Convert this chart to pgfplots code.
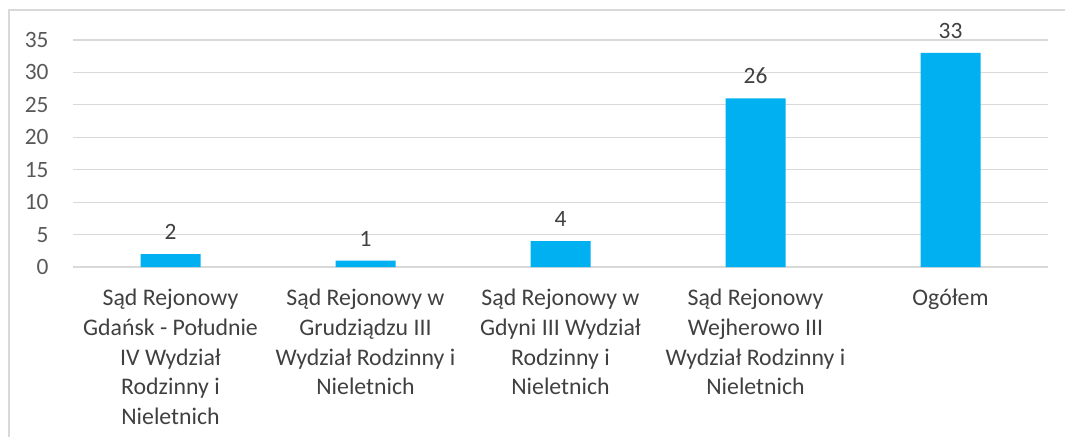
\documentclass[border=0pt]{standalone}
\usepackage{fontspec}
\setmainfont{Carlito}
\usepackage{pgfplots}
\pgfplotsset{compat=1.18}
\definecolor{barblue}{HTML}{00B0F0}
\definecolor{gridgray}{HTML}{D9D9D9}
\definecolor{txtgray}{HTML}{595959}
\definecolor{lblgray}{HTML}{404040}
\newcommand\chartfont{\fontsize{11.7}{14.5}\selectfont}
\newcommand\catfont{\fontsize{11.9}{14.8}\selectfont}
\begin{document}
\begin{tikzpicture}
\chartfont
\useasboundingbox (0,0) rectangle (532.5pt,218pt);
\begin{scope}
\clip (0,0) rectangle (532.5pt,218pt);
\draw[gridgray, line width=0.9pt] (4.5pt,-10pt) -- (4.5pt,213pt) -- (545pt,213pt);
\end{scope}
\begin{axis}[
    at={(36.5pt,84.5pt)}, anchor=south west,
    scale only axis, width=487.5pt, height=113.5pt,
    xmin=-0.5, xmax=4.5, ymin=0, ymax=35,
    ytick={0,5,...,35},
    xtick={0,...,4},
    xticklabels={
        {Sąd Rejonowy\\Gdańsk - Południe\\IV Wydział\\Rodzinny i\\Nieletnich},
        {Sąd Rejonowy w\\Grudziądzu III\\Wydział Rodzinny i\\Nieletnich},
        {Sąd Rejonowy w\\Gdyni III Wydział\\Rodzinny i\\Nieletnich},
        {Sąd Rejonowy\\Wejherowo III\\Wydział Rodzinny i\\Nieletnich},
        {Ogółem}},
    axis line style={draw=none},
    major tick length=0pt,
    ymajorgrids,
    grid style={gridgray, line width=0.6pt},
    /pgf/number format/assume math mode=true,
    yticklabel style={font=\chartfont, text=txtgray, anchor=east, inner sep=0pt, xshift=-12pt},
    xticklabel style={font=\catfont, text=lblgray, align=center, anchor=north, inner sep=0pt, yshift=-11pt},
    ybar, bar width=30pt,
    nodes near coords,
    every node near coord/.append style={font=\chartfont, text=lblgray, anchor=south, inner sep=0pt, yshift=7pt},
]
\addplot[fill=barblue, draw=none] coordinates {(0,2) (1,1) (2,4) (3,26) (4,33)};
\end{axis}
\end{tikzpicture}
\end{document}
